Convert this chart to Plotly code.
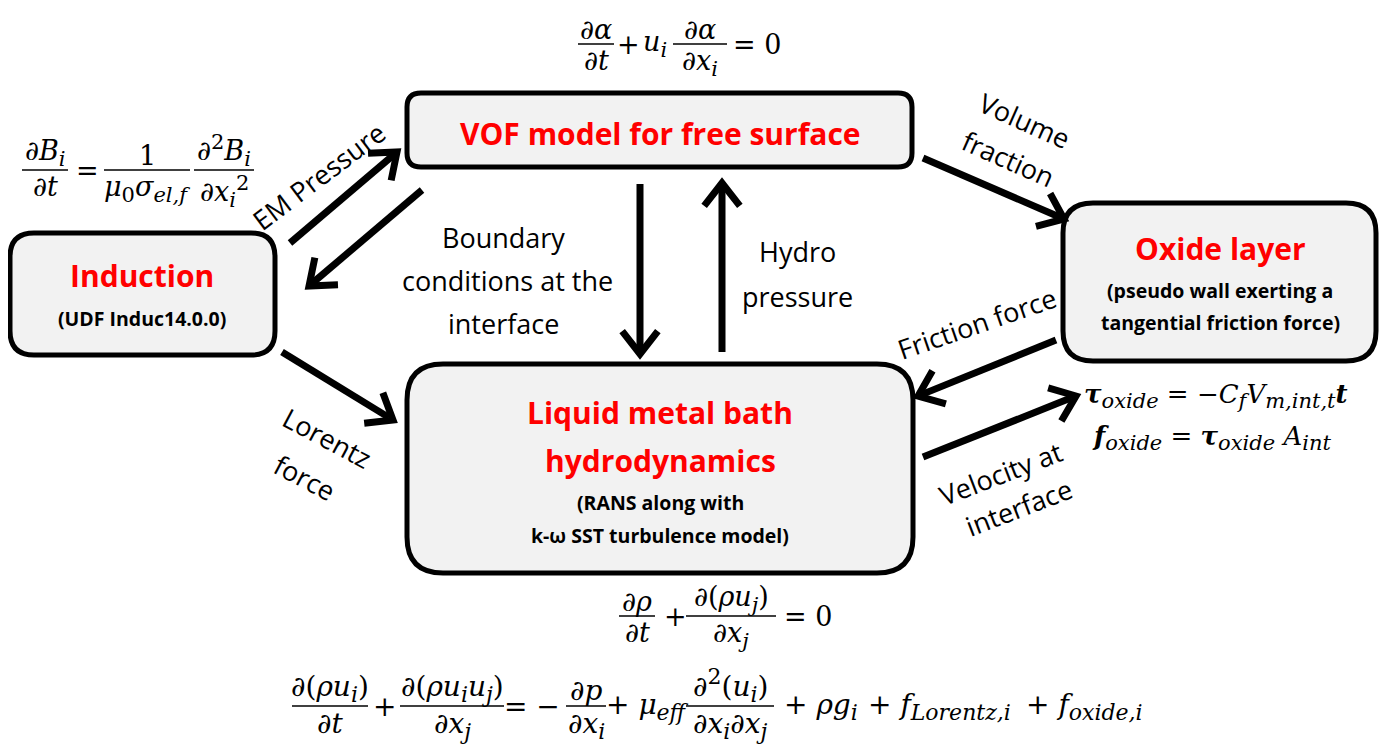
import math
import plotly.graph_objects as go

W, H = 1387, 744
OFF = 8  # page body margin compensation

# ---------------- content ----------------
box_names = ["vof", "induction", "oxide", "liquid"]
box_titles = [["VOF model for free surface"], ["Induction"], ["Oxide layer"],
              ["Liquid metal bath", "hydrodynamics"]]
box_subtitles = [[], ["(UDF Induc14.0.0)"], ["(pseudo wall exerting a", "tangential friction force)"],
                 ["(RANS along with", "k-ω SST turbulence model)"]]

edge_labels = [["EM Pressure"], ["Boundary", "conditions at the", "interface"], ["Hydro", "pressure"],
               ["Volume", "fraction"], ["Friction force"], ["Lorentz", "force"], ["Velocity at", "interface"]]

# ---------------- layout (pixels) ----------------
box_rects = {"vof": (407, 93, 912, 167, 14), "induction": (10, 233, 275, 355, 24),
             "oxide": (1063, 203, 1376, 361, 30), "liquid": (407, 364, 913, 573, 36)}
title_pos = {"vof": [(660, 133)], "induction": [(142, 275)], "oxide": [(1220, 248)],
             "liquid": [(660, 412), (660, 460)]}
sub_pos = {"vof": [], "induction": [(142, 318)], "oxide": [(1220, 290), (1220, 322)],
           "liquid": [(660, 502), (660, 535)]}

arrows = [((290, 243), (397, 152)), ((422, 190), (309, 286)), ((640, 184), (640, 354)),
          ((722, 352), (722, 183)), ((923, 158), (1064, 219)), ((1056, 340), (918, 396)),
          ((282, 352), (393, 420)), ((923, 457), (1076, 396))]

edge_label_pos = [[(318, 176, -37)], [(503, 237, 0), (507, 280, 0), (503, 323, 0)],
                  [(797, 251, 0), (797, 296, 0)], [(1025, 120, 24), (1008, 158, 24)],
                  [(976, 323, -19)], [(327, 437, 28), (305, 477, 28)],
                  [(1000, 473, -21), (1018, 507, -21)]]

fig = go.Figure()
shapes, annos = [], []

def rrect(x0, y0, x1, y1, r):
    return (f"M {x0+r},{y0} L {x1-r},{y0} Q {x1},{y0} {x1},{y0+r} L {x1},{y1-r} "
            f"Q {x1},{y1} {x1-r},{y1} L {x0+r},{y1} Q {x0},{y1} {x0},{y1-r} "
            f"L {x0},{y0+r} Q {x0},{y0} {x0+r},{y0} Z")

for name, titles, subs in zip(box_names, box_titles, box_subtitles):
    x0, y0, x1, y1, r = box_rects[name]
    shapes.append(dict(type="path", path=rrect(x0, y0, x1, y1, r), xref="x", yref="y",
                       fillcolor="#f2f2f2", line=dict(color="black", width=5), layer="below"))
    for t, (x, y) in zip(titles, title_pos[name]):
        annos.append(dict(x=x, y=y, text=f"<b>{t}</b>", showarrow=False,
                          font=dict(family="Open Sans", size=30, color="#ff0000")))
    for t, (x, y) in zip(subs, sub_pos[name]):
        annos.append(dict(x=x, y=y, text=f"<b>{t}</b>", showarrow=False,
                          font=dict(family="Open Sans", size=19.5, color="black")))

for (sx, sy), (tx, ty) in arrows:
    dx, dy = tx - sx, ty - sy
    L = math.hypot(dx, dy)
    ux, uy = dx / L, dy / L
    nx, ny = -uy, ux
    shapes.append(dict(type="line", x0=sx, y0=sy, x1=tx - ux * 5, y1=ty - uy * 5, xref="x", yref="y",
                       line=dict(color="black", width=7)))
    al, ang = 29, math.radians(38)
    p1 = (tx - al * math.cos(ang) * ux + al * math.sin(ang) * nx, ty - al * math.cos(ang) * uy + al * math.sin(ang) * ny)
    p2 = (tx - al * math.cos(ang) * ux - al * math.sin(ang) * nx, ty - al * math.cos(ang) * uy - al * math.sin(ang) * ny)
    shapes.append(dict(type="path", path=f"M {p1[0]},{p1[1]} L {tx},{ty} L {p2[0]},{p2[1]}",
                       xref="x", yref="y", line=dict(color="black", width=7)))

for lines, poss in zip(edge_labels, edge_label_pos):
    for t, (x, y, a) in zip(lines, poss):
        annos.append(dict(x=x, y=y, text=t, showarrow=False, textangle=a,
                          font=dict(family="Open Sans", size=27, color="black")))

# ---------------- equations ----------------
MF = "DejaVu Serif"
SS = 21          # subscript font size

def frac(x, yline, num, den, w, size):
    shapes.append(dict(type="line", x0=x - w / 2, x1=x + w / 2, y0=yline, y1=yline, xref="x", yref="y",
                       line=dict(color="black", width=1.6)))
    annos.append(dict(x=x, y=yline + 3, text=num, showarrow=False, yanchor="bottom",
                      font=dict(family=MF, size=size, color="black")))
    annos.append(dict(x=x, y=yline - 1, text=den, showarrow=False, yanchor="top",
                      font=dict(family=MF, size=size, color="black")))

def txt(x, y, s, size, anchor="center"):
    annos.append(dict(x=x, y=y, text=s, showarrow=False, xanchor=anchor,
                      font=dict(family=MF, size=size, color="black")))

def I(s):
    return f"<i>{s}</i>"

def sub(s, ss=SS):
    return f"<sub><span style='font-size:{ss}px'>{s}</span></sub>"

def sup(s, ss=SS):
    return f"<sup><span style='font-size:{ss}px'>{s}</span></sup>"

vof_eq = [("frac", 596, "∂" + I("α"), "∂" + I("t"), 36), ("txt", 628, "+"), ("txt", 655, I("u") + sub(I("i"))),
          ("frac", 700, "∂" + I("α"), "∂" + I("x") + sub(I("i")), 54), ("txt", 757, "= 0")]
ind_eq = [("frac", 45, "∂" + I("B") + sub(I("i")), "∂" + I("t"), 46), ("txt", 87, "="),
          ("frac", 147, "1", I("μ") + sub("0") + I("σ") + sub(I("el,f")), 86),
          ("frac", 224, "∂" + sup("2") + I("B") + sub(I("i")), "∂" + I("x") + sub(I("i")) + sup("2"), 60)]
cont_eq = [("frac", 637, "∂" + I("ρ"), "∂" + I("t"), 36), ("txt", 675, "+"),
           ("frac", 731, "∂(" + I("ρu") + sub(I("j")) + ")", "∂" + I("x") + sub(I("j")), 90), ("txt", 808, "= 0")]
M = 22  # momentum subscript size
mom_eq = [("frac", 330, "∂(" + I("ρu") + sub(I("i"), M) + ")", "∂" + I("t"), 76), ("txt", 384, "+"),
          ("frac", 452, "∂(" + I("ρu") + sub(I("i"), M) + I("u") + sub(I("j"), M) + ")", "∂" + I("x") + sub(I("j"), M), 104),
          ("txt", 532, "= −"), ("frac", 586, "∂" + I("p"), "∂" + I("x") + sub(I("i"), M), 40),
          ("txt", 647, "+ " + I("μ") + sub(I("eff"), M)),
          ("frac", 730, "∂" + sup("2", M) + "(" + I("u") + sub(I("i"), M) + ")",
           "∂" + I("x") + sub(I("i"), M) + "∂" + I("x") + sub(I("j"), M), 88),
          ("ltxt", 782, "+ " + I("ρg") + sub(I("i"), M)),
          ("ltxt", 866, "+ " + I("f") + sub(I("Lorentz,i"), M)),
          ("ltxt", 1024, "+ " + I("f") + sub(I("oxide,i"), M))]

for eq, yl, size in [(vof_eq, 44, 27), (ind_eq, 170, 27), (cont_eq, 616, 27), (mom_eq, 706, 28)]:
    for item in eq:
        if item[0] == "frac":
            frac(item[1], yl, item[2], item[3], item[4], size)
        elif item[0] == "txt":
            txt(item[1], yl, item[2], size)
        else:
            txt(item[1], yl, item[2], size, anchor="left")

oxide_eqs = ["<b><i>τ</i></b>" + sub(I("oxide"), 21) + " = −" + I("C") + sub(I("f"), 21) + I("V") + sub(I("m,int,t"), 21) + "<b><i>t</i></b>",
             "<b><i>f</i></b>" + sub(I("oxide"), 21) + " = <b><i>τ</i></b>" + sub(I("oxide"), 21) + " " + I("A") + sub(I("int"), 21)]
for s, (x, y) in zip(oxide_eqs, [(1082, 396), (1090, 438)]):
    txt(x, y, s, 26, anchor="left")

fig.update_layout(width=W - OFF, height=H - OFF, margin=dict(l=0, r=0, t=0, b=0), plot_bgcolor="white",
                  paper_bgcolor="white", shapes=shapes, annotations=annos, showlegend=False)
fig.update_xaxes(range=[OFF, W], visible=False, fixedrange=True)
fig.update_yaxes(range=[H, OFF], visible=False, fixedrange=True)
fig.write_html("out.html")
